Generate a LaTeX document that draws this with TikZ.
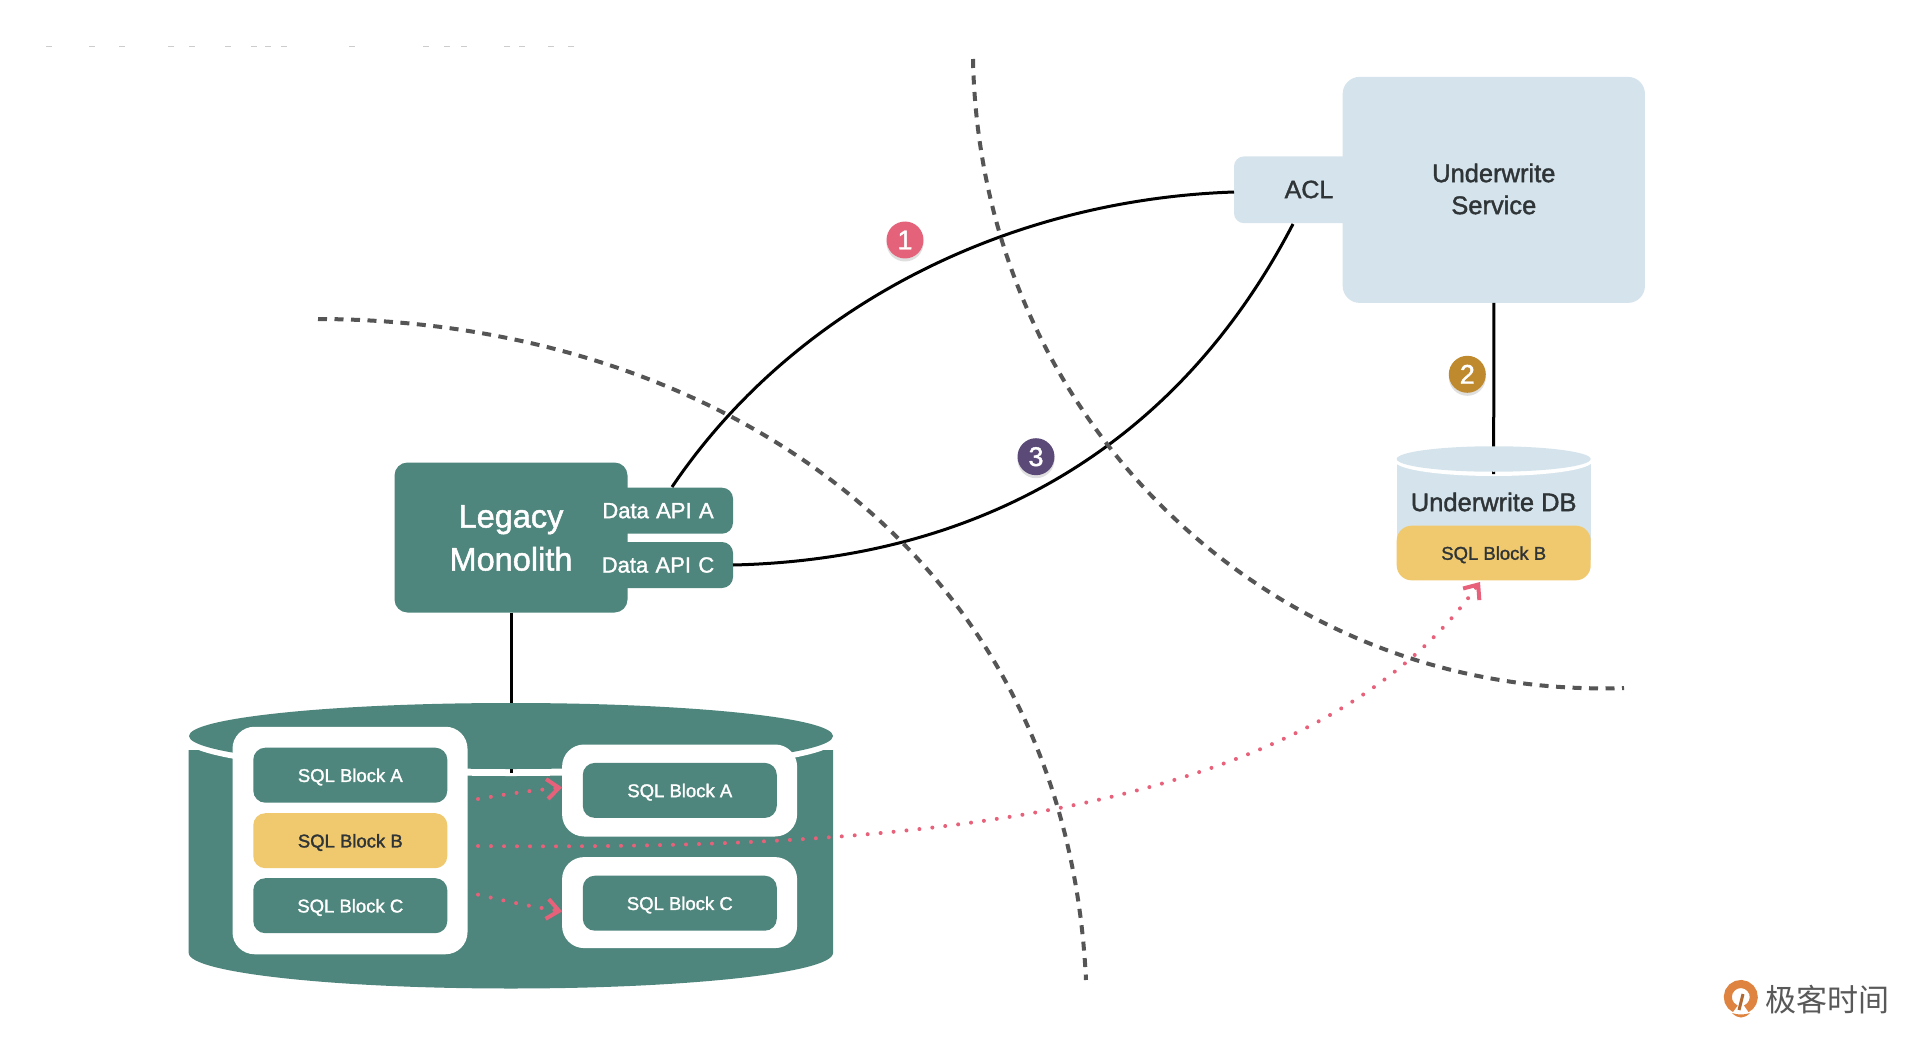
\documentclass[tikz,border=0pt]{standalone}
\usepackage{fontspec}
\setmainfont[FakeBold=1.5]{Liberation Sans}
\newfontfamily\cjkfont{Noto Sans CJK SC}
\usetikzlibrary{arrows.meta,shapes.geometric,shadows}
\definecolor{tealbox}{HTML}{4E857C}
\definecolor{bluebox}{HTML}{D5E4EC}
\definecolor{yellowbox}{HTML}{F0C96E}
\definecolor{darktext}{HTML}{2F3437}
\definecolor{dashgray}{HTML}{555555}
\definecolor{pinkdot}{HTML}{E8617A}
\definecolor{badgepink}{HTML}{E5637A}
\definecolor{badgegold}{HTML}{BF8A2E}
\definecolor{badgepurple}{HTML}{5B4A78}
\definecolor{logoorange}{HTML}{DE8440}
\begin{document}
\begin{tikzpicture}[
    x = 1pt,
    y = -1pt,
    >={Straight Barb[length=12pt,width=20pt]},
    box/.style = {rectangle, fill=#1, inner sep=0pt, outer sep=0pt},
    sqlblock/.style = {box=tealbox, rounded corners=12pt, minimum width=194pt,
              minimum height=55pt, text=white, text height=13.5pt, text depth=0pt,
              font=\fontsize{18.5}{20}\selectfont},
    sqlyellow/.style = {sqlblock, fill=yellowbox, text=darktext},
    holder/.style = {box=white, rounded corners=22pt},
    apibox/.style = {box=tealbox, rounded corners=11pt, minimum width=130pt,
              minimum height=46pt, text=white, font=\fontsize{22}{24}\selectfont,
              align=center, text width=110pt},
    badge/.style = {circle, fill=#1, minimum size=37pt, inner sep=0pt, text=white,
              font=\fontsize{27}{30}\selectfont,
              drop shadow={shadow xshift=0pt, shadow yshift=-3pt, opacity=0.25}},
    link/.style = {black, line width=3pt},
    border/.style = {dashgray, line width=4pt, dash pattern=on 9pt off 7.5pt},
    move/.style = {pinkdot, line width=4pt, line cap=round, dash pattern=on 0pt off 13pt},
    ]

\useasboundingbox (0,0) rectangle (1920,1043);
\fill[white] (0,0) rectangle (1920,1043);

% faint remains of a line at the top
\foreach \mx in {49,92,122,171,192,228,254,268,284,352,426,447,464,507,522,551,571}
  \draw[gray!40, line width=1pt] (\mx-3,47) -- (\mx+3,47);

% legacy side
\node[box=tealbox, rounded corners=13pt, minimum width=233pt, minimum height=150pt] (monolith) at (511,537.5){};
\node[text=white, align=center, font=\fontsize{32.5}{43}\selectfont] (monolith_text) at (511,538){Legacy\\Monolith};
\node[apibox] (api_a) at (668,510.7){\hspace*{-20pt}Data API A};
\node[apibox] (api_c) at (668,565){\hspace*{-20pt}Data API C};

% big database
\fill[tealbox] (188.7,750) -- (833,750) -- (833,953) arc[start angle=0, end angle=180, x radius=322.15, y radius=35.5] -- cycle;
\node[ellipse, fill=white, inner sep=0pt, minimum width=650pt, minimum height=72pt] (legacy_db_gap) at (511,740){};
\coordinate (legacy_db_in) at (511,773);
\draw[link] (monolith.south) -- (legacy_db_in);
\node[ellipse, fill=tealbox, inner sep=0pt, minimum width=644pt, minimum height=66pt] (legacy_db) at (511,736){};

\node[holder, minimum width=235pt, minimum height=227.5pt] (holder_left) at (350,840.5){};
\node[holder, minimum width=235pt, minimum height=92pt] (holder_a) at (679.6,790.5){};
\node[holder, minimum width=235pt, minimum height=91pt] (holder_c) at (679.6,902.6){};
\node[sqlblock] (block_a) at (350.3,775.2){SQL Block A};
\node[sqlyellow] (block_b) at (350.3,840.7){SQL Block B};
\node[sqlblock] (block_c) at (350.3,905.7){SQL Block C};
\node[sqlblock] (block_a2) at (679.8,790.4){SQL Block A};
\node[sqlblock] (block_c2) at (679.8,903.2){SQL Block C};

% new service
\node[box=bluebox, rounded corners=10pt, minimum width=150pt, minimum height=66.8pt] (acl) at (1309,189.8){};
\node[box=bluebox, rounded corners=17pt, minimum width=302.3pt, minimum height=226pt] (service) at (1493.8,189.9){};
\node[text=darktext, font=\fontsize{25}{28}\selectfont] (acl_text) at (1309,189.5){ACL};
\node[text=darktext, align=center, font=\fontsize{25.5}{32}\selectfont] (service_text) at (1493.8,189){Underwrite\\Service};

% new database
\fill[bluebox] (1396.7,464) rectangle (1590.7,560);
\node[ellipse, fill=white, inner sep=0pt, minimum width=198pt, minimum height=30pt] (uw_db_gap) at (1493.7,461){};
\coordinate (uw_db_in) at (1493.7,474);
\draw[link] (service.south) -- (uw_db_in);
\node[ellipse, fill=bluebox, inner sep=0pt, minimum width=194pt, minimum height=25.5pt] (uw_db) at (1493.7,459){};
\node[text=darktext, font=\fontsize{25.5}{28}\selectfont] (uw_db_text) at (1493.7,502){Underwrite DB};
\node[sqlyellow, rounded corners=15pt, minimum height=54.7pt] (block_b2) at (1493.7,553){SQL Block B};

% calls
\coordinate (api_a_out) at (672,487);
\coordinate (acl_in) at (1234,192);
\coordinate (acl_low) at (1293,224);
\draw[link] (api_a_out) .. controls (790,312) and (1000,200) .. (acl_in);
\draw[link] (api_c.east) .. controls (950,560) and (1165,470) .. (acl_low);

% seams
\coordinate (seam_a1) at (318,319);
\coordinate (seam_a2) at (1086,980);
\coordinate (seam_b1) at (973,59);
\coordinate (seam_b2) at (1624,688);
\draw[border] (seam_a1) .. controls (700,320) and (1065,540) .. (seam_a2);
\draw[border] (seam_b1) .. controls (980,420) and (1272,700) .. (seam_b2);

% moved blocks
\coordinate (from_a) at (478,799);
\coordinate (from_b) at (478,846);
\coordinate (from_c) at (478,894.6);
\coordinate (to_b2) at (1480,582);
\draw[move, ->] (from_a) to[bend left=2] (holder_a.west |- 0,787.5);
\draw[move, ->] (from_c) to[bend right=2] (holder_c.west |- 0,911.4);
\draw[move, ->] (from_b) .. controls (900,850) and (1310,820) .. (to_b2);

\node[badge=badgepink] (badge_one) at (905,240){1};
\node[badge=badgegold] (badge_two) at (1467.3,374.3){2};
\node[badge=badgepurple] (badge_three) at (1036,456.7){3};

% logo
\draw[logoorange, line width=8pt] (1740.8,997) ++(115:13) arc[start angle=115, end angle=425, radius=13];
\draw[logoorange!80!black, line width=3pt] (1739,1010) -- (1743,994);
\fill[logoorange] (1732,1013) .. controls (1738,1019) and (1744,1019) .. (1750,1013) .. controls (1744,1015) and (1738,1015) .. cycle;
\node[text=black!65, font=\cjkfont\fontsize{31}{34}\selectfont] (logo_text) at (1827.5,1000){极客时间};
\end{tikzpicture}
\end{document}
